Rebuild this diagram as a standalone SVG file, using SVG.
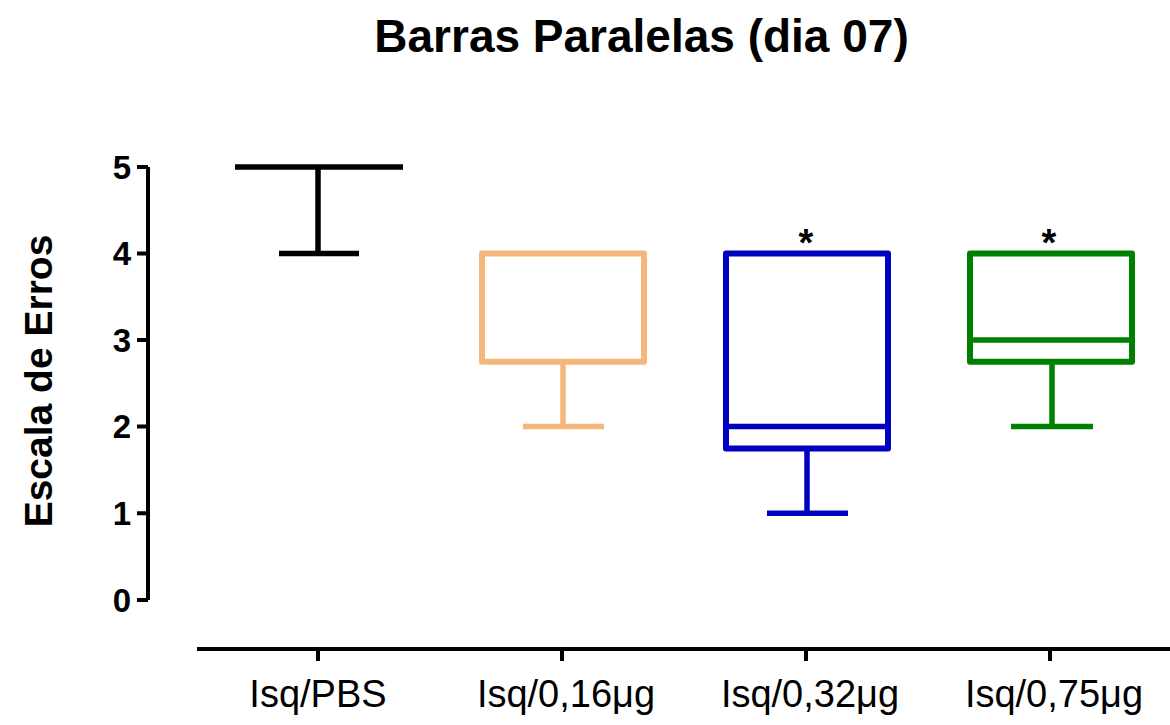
<svg xmlns="http://www.w3.org/2000/svg" width="1170" height="725" viewBox="0 0 1170 725">
<style>
text{font-family:"Liberation Sans",Arial,sans-serif;fill:#000}
.title{font-size:46px;font-weight:bold;text-anchor:middle}
.ytick{font-size:33px;font-weight:bold;text-anchor:end}
.xlab{font-size:38px;text-anchor:middle}
.ax{stroke:#000;stroke-width:4;fill:none}
.box{fill:none;stroke-width:6;stroke-linejoin:round}
.wh{fill:none;stroke-width:5.5}
.star{font-size:38px;font-weight:bold;text-anchor:middle}
</style>
<rect width="1170" height="725" fill="#fff"/>
<text class="title" x="641.5" y="52">Barras Paralelas (dia 07)</text>
<g id="y-axis">
<path class="ax" d="M148,167V600M137,167H148M137,253.4H148M137,340H148M137,426.6H148M137,513.2H148M137,600H148"/>
<text class="ytick" x="131" y="179">5</text>
<text class="ytick" x="131" y="265">4</text>
<text class="ytick" x="131" y="352">3</text>
<text class="ytick" x="131" y="438">2</text>
<text class="ytick" x="131" y="525">1</text>
<text class="ytick" x="131" y="612">0</text>
<text transform="translate(52,381) rotate(-90)" style="font-size:39px;font-weight:bold;text-anchor:middle">Escala de Erros</text>
</g>
<g id="x-axis">
<path class="ax" d="M197,649H1170M318,649V661M562,649V661M806,649V661M1050,649V661"/>
<text class="xlab" x="318" y="707">Isq/PBS</text>
<text class="xlab" x="566" y="707">Isq/0,16μg</text>
<text class="xlab" x="810" y="707">Isq/0,32μg</text>
<text class="xlab" x="1054" y="707">Isq/0,75μg</text>
</g>
<g id="pbs" stroke="#000">
<path class="wh" d="M235,167H403M318,167V253.4M279,253.4H359"/>
</g>
<g id="iso016" stroke="#F3B77B">
<rect class="box" x="482" y="253.4" width="162" height="108.4"/>
<path class="wh" d="M563,361.8V426.6M523,426.6H604"/>
</g>
<g id="iso032" stroke="#0000C0">
<rect class="box" x="726" y="253.4" width="162" height="195"/>
<path class="wh" d="M726,426.6H888M807,448.4V513.2M767,513.2H848"/>
<text class="star" x="806" y="256" stroke="none">*</text>
</g>
<g id="iso075" stroke="#008000">
<rect class="box" x="970" y="253.4" width="162" height="108.4"/>
<path class="wh" d="M970,340H1132M1052,361.8V426.6M1011,426.6H1093"/>
<text class="star" x="1049" y="256" stroke="none">*</text>
</g>
</svg>
